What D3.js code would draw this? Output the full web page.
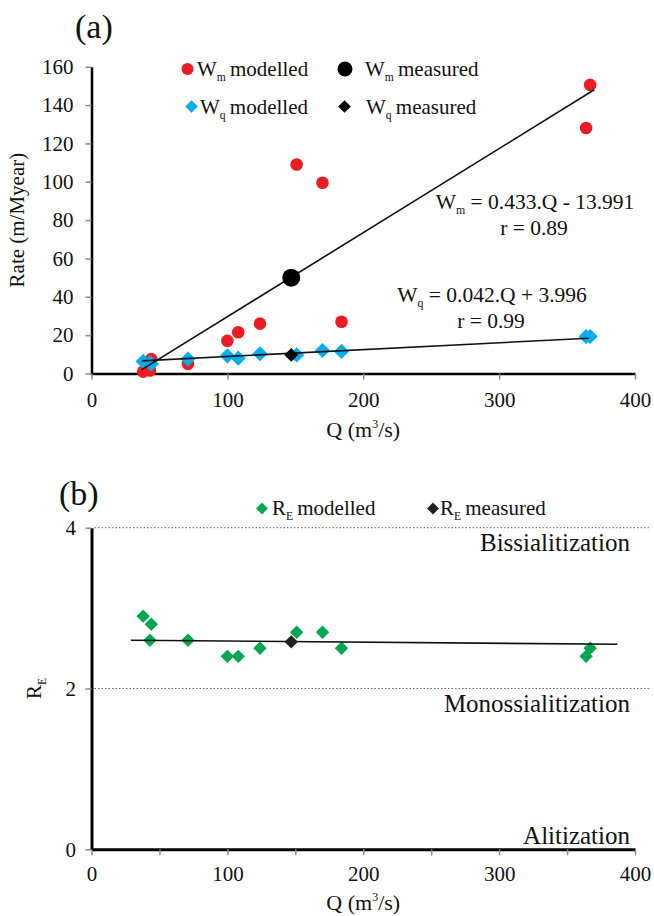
<!DOCTYPE html>
<html>
<head>
<meta charset="utf-8">
<script src="https://cdn.jsdelivr.net/npm/d3@7"></script>
<style>
  body { margin: 0; background: #fff; }
</style>
</head>
<body>
<svg id="chart" width="654" height="916"></svg>
<script>
// Q (m3/s) at the modelled sites
var qModelled = [38, 43, 44, 71, 100, 108, 124, 151, 170, 184, 364, 367];
// weathering rates (m/Myear)
var wmModelled = [1, 1.6, 7.5, 5, 17, 21.5, 26, 109, 99.5, 27, 128, 150.5];
var wqModelled = [6.3, 5.5, 5, 7.5, 9.2, 8, 10.3, 9.7, 12, 11.5, 19.3, 19.3];
// RE index
var reModelled = [2.9, 2.6, 2.8, 2.6, 2.4, 2.4, 2.5, 2.7, 2.7, 2.5, 2.4, 2.5];

var qMeasured = [147];
var wmMeasured = [50];
var wqMeasured = [9.7];
var reMeasured = [2.58];

// fitted lines, read at their two ends
var wmTrendQ = [37, 370], wmTrendW = [2.0, 148];
var wqTrendQ = [37, 366], wqTrendW = [6.6, 18.4];
var reTrendQ = [29, 387], reTrendR = [2.6, 2.55];

var rateTicks = [0, 20, 40, 60, 80, 100, 120, 140, 160];
var qTicksA = [0, 100, 200, 300, 400];
var qTicksB = [0, 50, 100, 150, 200, 250, 300, 350, 400];
var reTicks = [0, 2, 4];
var zoneLevels = [4, 2, 0];
var zoneNames = ["Bissialitization", "Monossialitization", "Alitization"];

var RED = "#ed1c24", BLUE = "#00aeef", GREEN = "#00a651";
var SERIF = "'Liberation Serif', 'Times New Roman', 'DejaVu Serif', serif";

var svg = d3.select("#chart").style("font-family", SERIF);

var x = d3.scaleLinear().domain([0, 400]).range([91.5, 635]);
var yA = d3.scaleLinear().domain([0, 160]).range([373.5, 66.7]);
var yB = d3.scaleLinear().domain([0, 4]).range([849.3, 527.7]);

function diamond(size) {
    return d3.symbol().type(d3.symbolSquare).size(size)();
}

function txt(g) {
    return g.append("text").style("font-family", SERIF).attr("fill", "#111");
}

function styleAxis(g, w) {
    g.attr("font-family", null).attr("font-size", null);
    g.select(".domain").attr("stroke", "#000").attr("stroke-width", w);
    g.selectAll(".tick line").attr("stroke", "#8a8a8a").attr("stroke-width", 1.5);
    g.selectAll(".tick text").attr("fill", "#111")
        .style("font-family", SERIF).style("font-size", "21px");
}

// label with a subscript, e.g. W_m modelled
function subLabel(g, px, py, main, sub, rest, fs, anchor) {
    var t = txt(g).attr("x", px).attr("y", py)
        .style("font-size", fs + "px").attr("text-anchor", anchor || "start");
    t.append("tspan").text(main);
    t.append("tspan").text(sub).style("font-size", (fs * 0.55) + "px").attr("dy", fs * 0.25);
    t.append("tspan").text(rest).attr("dy", -fs * 0.25);
    return t;
}

/* ---------- panel (a) ---------- */
var gA = svg.append("g");

txt(gA).attr("x", 75).attr("y", 38).style("font-size", "34px").text("(a)");

var axA = gA.append("g").attr("transform", "translate(0," + yA(0) + ")")
    .call(d3.axisBottom(x).tickValues(qTicksA).tickSize(6).tickSizeOuter(0));
styleAxis(axA, 2.5);
axA.selectAll(".tick text").attr("y", 33.5).attr("dy", 0);

var ayA = gA.append("g").attr("transform", "translate(" + x(0) + ",0)")
    .call(d3.axisLeft(yA).tickValues(rateTicks).tickSize(6).tickSizeOuter(0).tickPadding(12));
styleAxis(ayA, 2.5);

txt(gA)
    .attr("transform", "translate(24," + (yA(0) + yA(160)) / 2 + ") rotate(-90)")
    .attr("text-anchor", "middle").style("font-size", "21px").text("Rate (m/Myear)");

var qa = txt(gA).attr("x", (x(0) + x(400)) / 2).attr("y", 437)
    .attr("text-anchor", "middle").style("font-size", "22px");
qa.append("tspan").text("Q (m");
qa.append("tspan").text("3").style("font-size", "12px").attr("dy", -9);
qa.append("tspan").text("/s)").attr("dy", 9);

gA.selectAll("circle.wm").data(qModelled).enter().append("circle")
    .attr("cx", function (d) { return x(d); })
    .attr("cy", function (d, i) { return yA(wmModelled[i]); })
    .attr("r", 6.3).attr("fill", RED);

gA.selectAll("path.wq").data(qModelled).enter().append("path")
    .attr("d", diamond(115))
    .attr("transform", function (d, i) { return "translate(" + x(d) + "," + yA(wqModelled[i]) + ") rotate(45)"; })
    .attr("fill", BLUE);

var line = d3.line();
gA.append("path")
    .attr("d", line(wmTrendQ.map(function (q, i) { return [x(q), yA(wmTrendW[i])]; })))
    .attr("stroke", "#111").attr("stroke-width", 1.6).attr("fill", "none");
gA.append("path")
    .attr("d", line(wqTrendQ.map(function (q, i) { return [x(q), yA(wqTrendW[i])]; })))
    .attr("stroke", "#111").attr("stroke-width", 1.6).attr("fill", "none");

gA.selectAll("circle.wmm").data(qMeasured).enter().append("circle")
    .attr("cx", function (d) { return x(d); })
    .attr("cy", function (d, i) { return yA(wmMeasured[i]); })
    .attr("r", 9).attr("fill", "#000");
gA.selectAll("path.wqm").data(qMeasured).enter().append("path")
    .attr("d", diamond(95))
    .attr("transform", function (d, i) { return "translate(" + x(d) + "," + yA(wqMeasured[i]) + ") rotate(45)"; })
    .attr("fill", "#000");

// equations
subLabel(gA, 535, 209, "W", "m", " = 0.433.Q - 13.991", 21.5, "middle");
txt(gA).attr("x", 534).attr("y", 235).attr("text-anchor", "middle")
    .style("font-size", "21.5px").text("r = 0.89");
subLabel(gA, 492, 302, "W", "q", " = 0.042.Q + 3.996", 21.5, "middle");
txt(gA).attr("x", 491).attr("y", 328).attr("text-anchor", "middle")
    .style("font-size", "21.5px").text("r = 0.99");

// legend (a)
gA.append("circle").attr("cx", 187.5).attr("cy", 69).attr("r", 6).attr("fill", RED);
subLabel(gA, 197, 76, "W", "m", "\u2009modelled", 21);
gA.append("circle").attr("cx", 345).attr("cy", 69).attr("r", 7.5).attr("fill", "#000");
subLabel(gA, 365, 76, "W", "m", "\u2009measured", 21);
gA.append("path").attr("d", diamond(80))
    .attr("transform", "translate(191.5,106.5) rotate(45)").attr("fill", BLUE);
subLabel(gA, 200, 113.5, "W", "q", "\u2009modelled", 21);
gA.append("path").attr("d", diamond(80))
    .attr("transform", "translate(344.5,106.5) rotate(45)").attr("fill", "#000");
subLabel(gA, 366, 113.5, "W", "q", "\u2009measured", 21);

/* ---------- panel (b) ---------- */
var gB = svg.append("g");

txt(gB).attr("x", 59).attr("y", 505).style("font-size", "34px").text("(b)");

gB.selectAll("line.zone").data(zoneLevels.filter(function (d) { return d > 0; })).enter()
    .append("line")
    .attr("x1", x(0) + 3).attr("x2", x(400) + 15)
    .attr("y1", function (d) { return yB(d); }).attr("y2", function (d) { return yB(d); })
    .attr("stroke", "#666").attr("stroke-width", 1).attr("stroke-dasharray", "1.5,2");

gB.selectAll("text.zone").data(zoneNames).enter().append("text")
    .style("font-family", SERIF).attr("fill", "#111")
    .attr("x", 630).attr("text-anchor", "end").style("font-size", "25px")
    .attr("y", function (d, i) { return zoneLevels[i] > 0 ? yB(zoneLevels[i]) + 23 : yB(zoneLevels[i]) - 5; })
    .text(function (d) { return d; });

var axB = gB.append("g").attr("transform", "translate(0," + yB(0) + ")")
    .call(d3.axisBottom(x).tickValues(qTicksB).tickSize(6).tickSizeOuter(0)
        .tickFormat(function (d) { return d % 100 === 0 ? d : ""; }));
styleAxis(axB, 3);
axB.selectAll(".tick text").attr("y", 32).attr("dy", 0);

var ayB = gB.append("g").attr("transform", "translate(" + x(0) + ",0)")
    .call(d3.axisLeft(yB).tickValues(reTicks).tickFormat(d3.format("d"))
        .tickSize(6).tickSizeOuter(0).tickPadding(9.5));
styleAxis(ayB, 3);

var reLab = gB.append("g").attr("transform", "translate(41," + (yB(0) + yB(4)) / 2 + ") rotate(-90)");
subLabel(reLab, 0, 0, "R", "E", "", 21, "middle");

var qb = txt(gB).attr("x", (x(0) + x(400)) / 2).attr("y", 910)
    .attr("text-anchor", "middle").style("font-size", "22px");
qb.append("tspan").text("Q (m");
qb.append("tspan").text("3").style("font-size", "12px").attr("dy", -9);
qb.append("tspan").text("/s)").attr("dy", 9);

gB.selectAll("path.re").data(qModelled).enter().append("path")
    .attr("d", diamond(90))
    .attr("transform", function (d, i) { return "translate(" + x(d) + "," + yB(reModelled[i]) + ") rotate(45)"; })
    .attr("fill", GREEN);

gB.append("path")
    .attr("d", line(reTrendQ.map(function (q, i) { return [x(q), yB(reTrendR[i])]; })))
    .attr("stroke", "#111").attr("stroke-width", 1.6).attr("fill", "none");

gB.selectAll("path.rem").data(qMeasured).enter().append("path")
    .attr("d", diamond(90))
    .attr("transform", function (d, i) { return "translate(" + x(d) + "," + yB(reMeasured[i]) + ") rotate(45)"; })
    .attr("fill", "#231f20");

// legend (b)
gB.append("path").attr("d", diamond(70))
    .attr("transform", "translate(262,508.5) rotate(45)").attr("fill", GREEN);
subLabel(gB, 272, 514.5, "R", "E", "\u2009modelled", 21);
gB.append("path").attr("d", diamond(70))
    .attr("transform", "translate(433,508.5) rotate(45)").attr("fill", "#231f20");
subLabel(gB, 440, 514.5, "R", "E", "\u2009measured", 21);
</script>
</body>
</html>
